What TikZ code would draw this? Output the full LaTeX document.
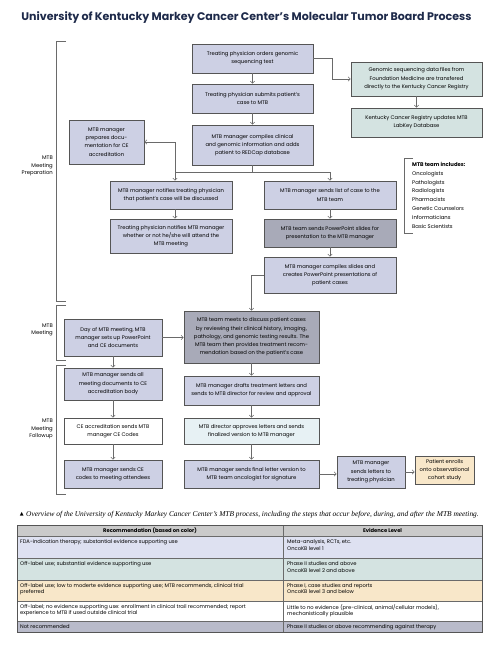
\documentclass[tikz,border=0pt]{standalone}
\usepackage{fontspec}
\setmainfont{Poppins}
\newfontfamily\capfont{Liberation Serif}
\newfontfamily\symfont{DejaVu Sans}
\usetikzlibrary{arrows.meta}
\definecolor{navy}{HTML}{1E2A4A}
\definecolor{lav}{HTML}{CDD0E4}
\definecolor{darkbox}{HTML}{A8AAB8}
\definecolor{sage}{HTML}{D4E3E1}
\definecolor{ice}{HTML}{E7F1F4}
\definecolor{sand}{HTML}{F8E7C9}
\definecolor{rowlav}{HTML}{DEE1F1}
\definecolor{rowgray}{HTML}{B9BBCA}
\definecolor{headgray}{HTML}{CACACA}
\definecolor{edge}{HTML}{555555}
\definecolor{wire}{HTML}{6A6A6A}
\tikzset{
  box/.style={draw=edge, line width=0.7pt, fill=lav, inner xsep=3pt, inner ysep=1pt,
    align=center, font=\fontsize{5.25}{8.3}\selectfont, text=black},
  bx/.style 2 args={minimum width=#1, minimum height=#2},
  wire/.style={draw=wire, line width=0.6pt},
  side/.style={font=\fontsize{5.3}{7.6}\selectfont, align=right, anchor=east, inner sep=0pt},
  cell/.style={font=\fontsize{5.2}{6.8}\selectfont, anchor=north west, align=left, inner sep=0pt, text=black}
}
\begin{document}
\begin{tikzpicture}[x=1pt, y=-1pt, >={Straight Barb[length=2.2pt, width=4.4pt]}]
\useasboundingbox (0,0) rectangle (500,656);
% title
\node[font=\fontsize{11.05}{13}\selectfont\bfseries, text=navy] (title) at (246.5,18)
  {University of Kentucky Markey Cancer Center’s Molecular Tumor Board Process};

% preparation
\node[box, bx={121pt}{29pt}] (order) at (252.5,58.5) {Treating physician orders genomic\\sequencing test};
\node[box, bx={121pt}{29pt}] (submit) at (252.5,98.5) {Treating physician submits patient’s\\case to MTB};
\node[box, bx={121pt}{40pt}] (compile) at (252.5,145) {MTB manager compiles clinical\\and genomic information and adds\\patient to REDCap database};
\node[box, bx={131pt}{34pt}, fill=sage] (foundation) at (416.5,79) {Genomic sequencing data files from\\Foundation Medicine are transfered\\directly to the Kentucky Cancer Registry};
\node[box, bx={131pt}{29pt}, fill=sage] (labkey) at (416.5,122.5) {Kentucky Cancer Registry updates MTB\\LabKey Database};
\node[box, bx={75pt}{44pt}] (cedoc) at (106.5,142) {MTB manager\\prepares docu-\\mentation for CE\\accreditation};
\node[box, bx={122pt}{28pt}] (notify) at (171,195) {MTB manager notifies treating physician\\that patient’s case will be discussed};
\node[box, bx={122pt}{34pt}] (attend) at (171,236) {Treating physician notifies MTB manager\\whether or not he/she will attend the\\MTB meeting};
\node[box, bx={132pt}{28pt}] (list) at (330,195) {MTB manager sends list of case to the\\MTB team};
\node[box, bx={132pt}{28pt}, fill=darkbox] (slides) at (330,233) {MTB team sends PowerPoint slides for\\presentation to the MTB manager};
\node[box, bx={132pt}{36pt}] (present) at (330,275) {MTB manager compiles slides and\\creates PowerPoint presentations of\\patient cases};

% meeting
\node[box, bx={98pt}{37pt}] (setup) at (113,337.5) {Day of MTB meeting, MTB\\manager sets up PowerPoint\\and CE documents};
\node[box, bx={135pt}{52pt}, fill=darkbox] (meet) at (251.5,337) {MTB team meets to discuss patient cases\\by reviewing their clinical history, imaging,\\pathology, and genomic testing results. The\\MTB team then provides treatment recom-\\mendation based on the patient’s case};

% followup
\node[box, bx={98pt}{32pt}] (senddocs) at (113,384) {MTB manager sends all\\meeting documents to CE\\accreditation body};
\node[box, bx={135pt}{29pt}] (draft) at (251.5,390.5) {MTB manager drafts treatment letters and\\sends to MTB director for review and approval};
\node[box, bx={98pt}{26pt}, fill=white] (codes) at (113,431) {CE accreditation sends MTB\\manager CE Codes};
\node[box, bx={135pt}{26pt}, fill=ice] (approve) at (251.5,431) {MTB director approves letters and sends\\finalized version to MTB manager};
\node[box, bx={98pt}{28pt}] (attendees) at (113,474) {MTB manager sends CE\\codes to meeting attendees};
\node[box, bx={135pt}{28pt}] (final) at (251.5,474) {MTB manager sends final letter version to\\MTB team oncologist for signature};
\node[box, bx={68pt}{32pt}] (letters) at (371,472) {MTB manager\\sends letters to\\treating physician};
\node[box, bx={59pt}{28pt}, fill=sand] (cohort) at (444.5,470) {Patient enrolls\\onto observational\\cohort study};

% connectors
\coordinate (k1) at (332,58.5);
\coordinate (j1) at (252.5,172);
\coordinate (j2) at (175,172);
\draw[wire,->] (order) -- (submit);
\draw[wire,->] (submit) -- (compile);
\draw[wire,->] (order.east) -- (k1) |- (foundation.west);
\draw[wire,->] (foundation) -- (labkey);
\draw[wire] (compile.south) -- (j1);
\draw[wire,->] (j1) -| (list.north);
\draw[wire] (j1) -- (j2);
\draw[wire,->] (j2) -- (j2 |- notify.north);
\draw[wire,->] (j2) |- (cedoc.east);
\draw[wire,->] (j2 |- notify.south) -- (j2 |- attend.north);
\draw[wire,->] (list) -- (slides);
\draw[wire,->] (slides) -- (present);
\draw[wire,->] (present.west) -| (meet.north);
\draw[wire,->] (setup.east) -- (setup.east -| meet.west);
\draw[wire,->] (setup) -- (senddocs);
\draw[wire,->] (senddocs) -- (codes);
\draw[wire,->] (codes) -- (attendees);
\draw[wire,->] (meet) -- (draft);
\draw[wire,->] (draft) -- (approve);
\draw[wire,->] (approve) -- (final);
\draw[wire,->] (final.east) -- (final.east -| letters.west);
\draw[wire,->] (letters.east) -- (letters.east -| cohort.west);

% phase brackets
\draw[wire] (66,41) -- (56,41) -- (56,301) -- (66,301);
\draw[wire] (66,305) -- (56,305) -- (56,360) -- (66,360);
\draw[wire] (66,365) -- (56,365) -- (56,494) -- (66,494);
\node[side] (prep) at (53,166) {MTB\\Meeting\\Preparation};
\node[side] (meeting) at (53,330) {MTB\\Meeting};
\node[side] (follow) at (53,429) {MTB\\Meeting\\Followup};

% team list
\draw[wire] (413,158) -- (404,158) -- (404,233) -- (413,233);
\node[anchor=north west, inner sep=0pt, align=left, font=\fontsize{5.3}{8.8}\selectfont] (team) at (412,162)
  {\textbf{MTB team includes:}\\Oncologists\\Pathologists\\Radiologists\\Pharmacists\\Genetic Counselors\\Informaticians\\Basic Scientists};

% caption
\node[font=\symfont\fontsize{5}{5}\selectfont, anchor=east, inner sep=0pt] (tri) at (24,514) {▲};
\node[anchor=west, inner sep=0pt, font=\capfont\itshape\fontsize{7.4}{9}\selectfont] (caption) at (26,515)
  {Overview of the University of Kentucky Markey Cancer Center’s MTB process, including the steps that occur before, during, and after the MTB meeting.};

% table
\foreach \rt/\rb/\rc in {525/536/headgray, 536/558/rowlav, 558/580/sage, 580/601/sand, 601/621/white, 621/632/rowgray}
  \fill[\rc] (17,\rt) rectangle (482,\rb);
\foreach \ry in {536,558,580,601,621}
  \draw[wire, line width=0.5pt] (17,\ry) -- (482,\ry);
\draw[wire, line width=0.5pt] (283,525) -- (283,632);
\draw[edge, line width=0.8pt] (17,525) rectangle (482,632);
\node[cell, anchor=center, font=\fontsize{5.2}{6}\selectfont\bfseries] (h1) at (150,530.5) {Recommendation (based on color)};
\node[cell, anchor=center, font=\fontsize{5.2}{6}\selectfont\bfseries] (h2) at (382.5,530.5) {Evidence Level};
\node[cell] (a1) at (20,539.5) {FDA-indication therapy; substantial evidence supporting use};
\node[cell] (b1) at (287,539.5) {Meta-analysis, RCTs, etc.\\OncoKB level 1};
\node[cell] (a2) at (20,561.5) {Off-label use; substantial evidence supporting use};
\node[cell] (b2) at (287,561.5) {Phase II studies and above\\OncoKB level 2 and above};
\node[cell] (a3) at (20,583) {Off-label use; low to moderte evidence supporting use; MTB recommends, clinical trial\\preferred};
\node[cell] (b3) at (287,583) {Phase I, case studies and reports\\OncoKB level 3 and below};
\node[cell] (a4) at (20,604) {Off-label; no evidence supporting use: enrollment in clinical trail recommended; report\\experience to MTB if used outside clinical trial};
\node[cell] (b4) at (287,604) {Little to no evidence (pre-clinical, animal/cellular models),\\mechanistically plausible};
\node[cell] (a5) at (20,624) {Not recommended};
\node[cell] (b5) at (287,624) {Phase II studies or above recommending against therapy};
\end{tikzpicture}
\end{document}
